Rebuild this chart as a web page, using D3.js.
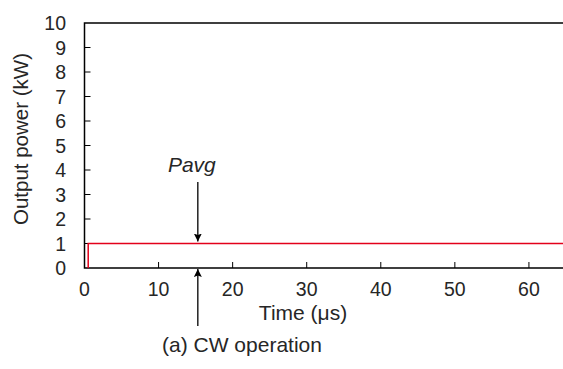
<!DOCTYPE html>
<html>
<head>
<meta charset="utf-8">
<script src="https://cdn.jsdelivr.net/npm/d3@7"></script>
<style>
  body { margin: 0; background: #fff; }
  svg { display: block; font-family: "Liberation Sans", Arial, sans-serif; }
</style>
</head>
<body>
<svg id="chart" width="563" height="369"></svg>
<script>
// CW output: switched on at ~0.5 us, then constant 1 kW
const timeUs = [0.5, 0.5, 64.6]
const powerKw = [0, 1, 1]
const xTicks = [0, 10, 20, 30, 40, 50, 60]
const yTicks = [0, 1, 2, 3, 4, 5, 6, 7, 8, 9, 10]
const pavgTime = 15.3
const pavgValue = 1

const svg = d3.select('#chart')
const margin = { top: 23, right: 0, bottom: 101, left: 84.5 }
const width = 563
const height = 369

const x = d3.scaleLinear().domain([0, 64.6]).range([margin.left, width - margin.right])
const y = d3.scaleLinear().domain([0, 10]).range([height - margin.bottom, margin.top])

svg.append('defs').append('marker')
    .attr('id', 'head')
    .attr('viewBox', '0 0 10 10')
    .attr('refX', 10).attr('refY', 5)
    .attr('markerWidth', 8).attr('markerHeight', 8)
    .attr('markerUnits', 'userSpaceOnUse')
    .attr('orient', 'auto')
    .append('path').attr('d', 'M0,0L10,5L0,10L2,5Z').attr('fill', '#000')

// frame: left, bottom, top
const g = svg.append('g')
g.append('path')
    .attr('d', `M${width},${y(10)}H${x(0)}V${y(0)}H${width}`)
    .attr('fill', 'none').attr('stroke', '#000').attr('stroke-width', 1.5)

// inward ticks
g.selectAll('.xt').data(xTicks.slice(1)).join('line')
    .attr('x1', d => x(d)).attr('x2', d => x(d))
    .attr('y1', y(0)).attr('y2', y(0) - 6)
    .attr('stroke', '#000').attr('stroke-width', 1)
g.selectAll('.yt').data(yTicks.slice(1, -1)).join('line')
    .attr('x1', x(0)).attr('x2', x(0) + 6)
    .attr('y1', d => y(d)).attr('y2', d => y(d))
    .attr('stroke', '#000').attr('stroke-width', 1)

const fs = 19.5
const ink = '#262626'
g.selectAll('.xl').data(xTicks).join('text')
    .attr('x', d => x(d)).attr('y', y(0) + 28)
    .attr('text-anchor', 'middle').attr('font-size', fs).attr('fill', ink)
    .text(d => d)
g.selectAll('.yl').data(yTicks).join('text')
    .attr('x', 66).attr('y', d => y(d) + 7)
    .attr('text-anchor', 'end').attr('font-size', fs).attr('fill', ink)
    .text(d => d)

svg.append('text')
    .attr('transform', `translate(28,139) rotate(-90)`)
    .attr('text-anchor', 'middle').attr('font-size', 20.5).attr('fill', ink)
    .text('Output power (kW)')
svg.append('text')
    .attr('x', 303).attr('y', 320)
    .attr('text-anchor', 'middle').attr('font-size', 21).attr('fill', ink)
    .text('Time (μs)')
svg.append('text')
    .attr('x', 242).attr('y', 352)
    .attr('text-anchor', 'middle').attr('font-size', 21).attr('fill', ink)
    .text('(a) CW operation')

// signal
const line = d3.line().x(d => x(d[0])).y(d => y(d[1]))
g.append('path')
    .datum(d3.zip(timeUs, powerKw))
    .attr('d', line)
    .attr('fill', 'none').attr('stroke', '#e3001b').attr('stroke-width', 1.5)

// Pavg annotation
g.append('line')
    .attr('x1', x(pavgTime)).attr('x2', x(pavgTime))
    .attr('y1', 182).attr('y2', y(pavgValue) - 2)
    .attr('stroke', '#000').attr('stroke-width', 1.3)
    .attr('marker-end', 'url(#head)')
g.append('text')
    .attr('x', x(pavgTime) - 6).attr('y', 172)
    .attr('text-anchor', 'middle').attr('font-size', 21).attr('font-style', 'italic').attr('fill', ink)
    .text('Pavg')
g.append('line')
    .attr('x1', x(pavgTime)).attr('x2', x(pavgTime))
    .attr('y1', 326).attr('y2', y(0) + 1)
    .attr('stroke', '#000').attr('stroke-width', 1.3)
    .attr('marker-end', 'url(#head)')
</script>
</body>
</html>
